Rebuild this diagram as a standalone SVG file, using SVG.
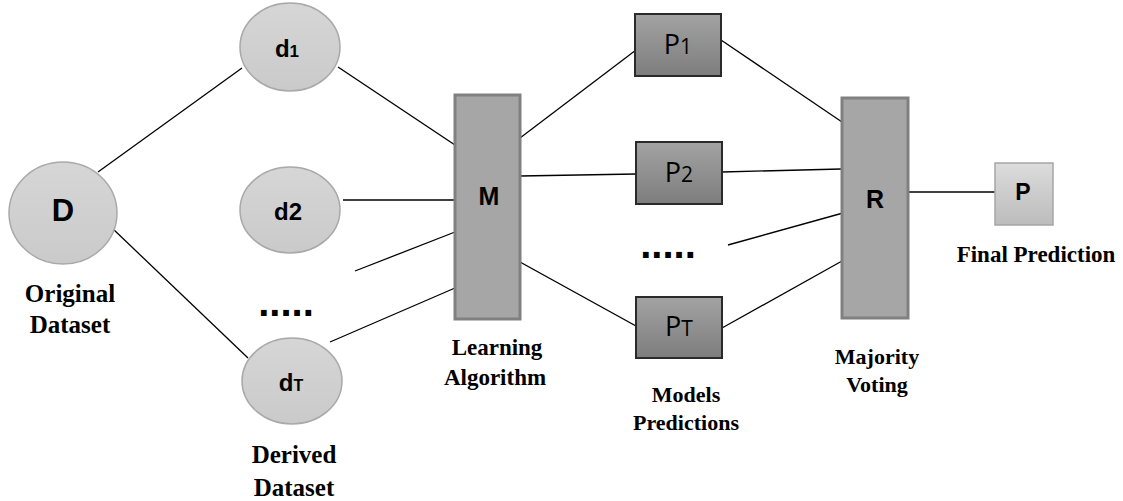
<svg xmlns="http://www.w3.org/2000/svg" width="1123" height="501" viewBox="0 0 1123 501">
<defs>
<linearGradient id="gEll" x1="0" y1="0" x2="0" y2="1"><stop offset="0" stop-color="#d6d6d6"/><stop offset="1" stop-color="#cacaca"/></linearGradient>
<linearGradient id="gP" x1="0" y1="0" x2="0" y2="1"><stop offset="0" stop-color="#a3a3a3"/><stop offset="1" stop-color="#7d7d7d"/></linearGradient>
<linearGradient id="gF" x1="0" y1="0" x2="0" y2="1"><stop offset="0" stop-color="#dcdcdc"/><stop offset="1" stop-color="#bcbcbc"/></linearGradient>
</defs>
<style>
.ell{fill:url(#gEll);stroke:#a9a9a9;stroke-width:1.5}
.bar{fill:#a6a6a6;stroke:#808080;stroke-width:3}
.pbox{fill:url(#gP);stroke:#2a2a2a;stroke-width:2}
.fbox{fill:url(#gF);stroke:#a6a6a6;stroke-width:1.5}
.lbl{font-family:"Liberation Sans",Arial,sans-serif;font-weight:bold;fill:#000;text-anchor:middle}
.plbl{font-family:"Open Sans","Liberation Sans",sans-serif;font-weight:normal;fill:#000;text-anchor:middle}
.cap{font-family:"Liberation Serif","Times New Roman",serif;font-weight:bold;fill:#000;text-anchor:middle}
.dots{font-family:"Liberation Sans",Arial,sans-serif;font-weight:bold;fill:#000;text-anchor:middle;font-size:40px;letter-spacing:0px}
#connectors line{stroke:#000;stroke-width:1.3}
</style>
<rect width="1123" height="501" fill="#fff"/>
<g id="connectors">
<line x1="98" y1="172" x2="242" y2="68"/>
<line x1="112" y1="228" x2="248" y2="358"/>
<line x1="338" y1="67" x2="455" y2="145"/>
<line x1="343" y1="200" x2="455" y2="200"/>
<line x1="355" y1="271" x2="455" y2="232"/>
<line x1="330" y1="342" x2="455" y2="288"/>
<line x1="520" y1="138" x2="636" y2="50"/>
<line x1="520" y1="176" x2="636" y2="174"/>
<line x1="520" y1="262" x2="636" y2="326"/>
<line x1="721" y1="40" x2="842" y2="122"/>
<line x1="722" y1="172" x2="841" y2="169"/>
<line x1="728" y1="245" x2="843" y2="213"/>
<line x1="722" y1="328" x2="842" y2="261"/>
<line x1="908" y1="192" x2="996" y2="192"/>
</g>
<g id="node-D">
<ellipse class="ell" cx="63" cy="213" rx="54" ry="51"/>
<text class="lbl" x="63" y="221" font-size="31">D</text>
<text class="cap" x="70" y="302" font-size="25">Original</text>
<text class="cap" x="70" y="333" font-size="25">Dataset</text>
</g>
<g id="node-d1">
<ellipse class="ell" cx="290" cy="47" rx="50" ry="44"/>
<text class="lbl" x="287" y="57" font-size="24">d<tspan font-size="17">1</tspan></text>
</g>
<g id="node-d2">
<ellipse class="ell" cx="290" cy="210" rx="50" ry="43"/>
<text class="lbl" x="288" y="220" font-size="24">d2</text>
</g>
<g id="node-dots1">
<text class="dots" x="286" y="316">.....</text>
</g>
<g id="node-dT">
<ellipse class="ell" cx="292" cy="381" rx="50" ry="43"/>
<text class="lbl" x="291" y="391" font-size="24">d<tspan font-size="16">T</tspan></text>
<text class="cap" x="294" y="463" font-size="25">Derived</text>
<text class="cap" x="294" y="496" font-size="25">Dataset</text>
</g>
<g id="node-M">
<rect class="bar" x="455" y="95" width="65" height="224"/>
<text class="lbl" x="489" y="205" font-size="25">M</text>
<text class="cap" x="497" y="355" font-size="23">Learning</text>
<text class="cap" x="495" y="385" font-size="23">Algorithm</text>
</g>
<g id="node-P1">
<rect class="pbox" x="635" y="14" width="86" height="62"/>
<text class="plbl" x="678" y="54" font-size="27">P<tspan font-size="21">1</tspan></text>
</g>
<g id="node-P2">
<rect class="pbox" x="636" y="142" width="86" height="62"/>
<text class="plbl" x="679" y="182" font-size="27">P<tspan font-size="21">2</tspan></text>
</g>
<g id="node-dots2">
<text class="dots" x="668" y="258">.....</text>
</g>
<g id="node-PT">
<rect class="pbox" x="636" y="297" width="86" height="61"/>
<text class="plbl" x="679" y="336" font-size="27">P<tspan font-size="21">T</tspan></text>
<text class="cap" x="686" y="402" font-size="22">Models</text>
<text class="cap" x="686" y="430" font-size="22">Predictions</text>
</g>
<g id="node-R">
<rect class="bar" x="842" y="98" width="66" height="220"/>
<text class="lbl" x="875" y="208" font-size="25">R</text>
<text class="cap" x="877" y="364" font-size="22">Majority</text>
<text class="cap" x="877" y="392" font-size="22">Voting</text>
</g>
<g id="node-P">
<rect class="fbox" x="995" y="163" width="58" height="62"/>
<text class="lbl" x="1023" y="200" font-size="23">P</text>
<text class="cap" x="1036" y="262" font-size="23">Final Prediction</text>
</g>
</svg>
